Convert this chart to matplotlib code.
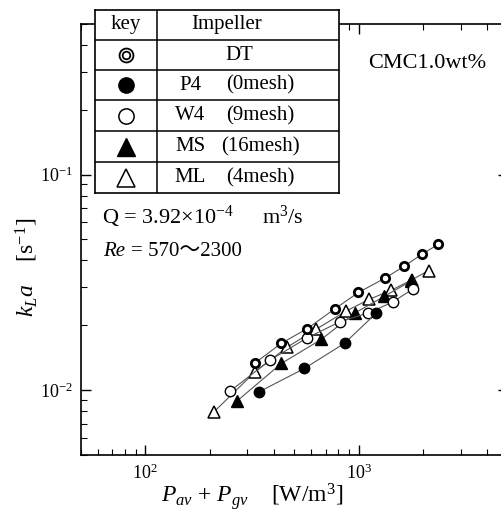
import matplotlib
matplotlib.use('Agg')
import matplotlib.pyplot as plt
from matplotlib.ticker import LogLocator, LogFormatterMathtext, NullFormatter

plt.rcParams['font.family'] = ['Liberation Serif', 'DejaVu Serif']
plt.rcParams['mathtext.fontset'] = 'custom'
plt.rcParams['mathtext.rm'] = 'Liberation Serif'
plt.rcParams['mathtext.it'] = 'Liberation Serif:italic'
plt.rcParams['mathtext.bf'] = 'Liberation Serif:bold'

# data: P_av + P_gv [W/m3] vs kLa [1/s]
dt_x = [328, 434, 574, 771, 997, 1329, 1626, 1983, 2349]
dt_y = [0.0134, 0.0165, 0.0193, 0.0238, 0.0284, 0.0331, 0.0375, 0.0428, 0.0474]

p4_x = [340, 556, 858, 1209]
p4_y = [0.0098, 0.0126, 0.0165, 0.0228]

w4_x = [250, 385, 574, 820, 1106, 1439, 1787]
w4_y = [0.0099, 0.0138, 0.0175, 0.0208, 0.0228, 0.0256, 0.0294]

ms_x = [269, 434, 668, 958, 1315, 1748]
ms_y = [0.0089, 0.0133, 0.0172, 0.0228, 0.0272, 0.0320]

ml_x = [209, 328, 461, 633, 868, 1120, 1413, 1773, 2124]
ml_y = [0.0079, 0.0122, 0.0158, 0.0192, 0.0232, 0.0264, 0.0290, 0.0325, 0.0359]

W, H = 501, 514
fig = plt.figure(figsize=(W / 100, H / 100), dpi=100)
ax = fig.add_axes([81 / W, 1 - 455 / H, (508 - 81) / W, (455 - 24) / H])

line_kw = dict(color='#555555', lw=0.8)
ax.plot(ml_x, ml_y, marker='^', ms=8, mfc='white', mec='black', mew=1.1, **line_kw)
ax.plot(ms_x, ms_y, marker='^', ms=8, mfc='black', mec='black', mew=1.0, **line_kw)
ax.plot(w4_x, w4_y, marker='o', ms=7.5, mfc='white', mec='black', mew=1.0, **line_kw)
ax.plot(p4_x, p4_y, marker='o', ms=7.5, mfc='black', mec='black', mew=1.0, **line_kw)
ax.plot(dt_x, dt_y, marker='o', ms=6, mfc='white', mec='black', mew=2.0, **line_kw)

ax.set_xscale('log')
ax.set_yscale('log')
ax.set_xlim(50, 5000)
ax.set_ylim(0.005, 0.5)

for a in (ax.xaxis, ax.yaxis):
    a.set_major_locator(LogLocator(base=10))
    a.set_minor_locator(LogLocator(base=10, subs=range(2, 10)))
    a.set_major_formatter(LogFormatterMathtext())
    a.set_minor_formatter(NullFormatter())
ax.tick_params(which='both', direction='in', top=True, right=True, labelsize=13, pad=6)
ax.tick_params(which='major', length=7, width=1.0)
ax.tick_params(which='minor', length=4, width=0.8)
for s in ax.spines.values():
    s.set_linewidth(1.2)

fig.text(252 / W, 1 - 496 / H, r'$P_{av}$ + $P_{gv}$    [W/m$^3$]', ha='center', va='center', fontsize=17)
fig.text(27 / W, 1 - 267 / H, r'$k_La$    [s$^{-1}$]', ha='center', va='center', fontsize=17, rotation=90)

fig.text(368 / W, 1 - 63 / H, 'CMC1.0wt%', ha='left', va='center', fontsize=16)
fig.text(102 / W, 1 - 217 / H, r'Q = 3.92$\times$10$^{-4}$', ha='left', va='center', fontsize=16)
fig.text(262 / W, 1 - 217 / H, r'm$^3$/s', ha='left', va='center', fontsize=16)
fig.text(103 / W, 1 - 251 / H, 'Re', ha='left', va='center', fontsize=15, style='italic')
fig.text(131 / W, 1 - 251 / H, '= 570～2300', ha='left', va='center', fontsize=15,
         family=['Liberation Serif', 'Noto Sans CJK JP'])

# key table drawn in its own axes on top of the plot frame
tx0, tx1, tcol = 95, 339, 157
rows = [10, 40, 70, 100, 131, 162, 193]
tab = fig.add_axes([tx0 / W, 1 - rows[-1] / H, (tx1 - tx0) / W, (rows[-1] - rows[0]) / H])
tab.set_xlim(tx0, tx1)
tab.set_ylim(rows[-1], rows[0])
tab.set_facecolor('white')
for s in tab.spines.values():
    s.set_linewidth(1.2)
tab.set_xticks([])
tab.set_yticks([])
for r in rows[1:-1]:
    tab.plot([tx0, tx1], [r, r], color='black', lw=1.1)
tab.plot([tcol, tcol], [rows[0], rows[-1]], color='black', lw=1.1)

mid = [(rows[i] + rows[i + 1]) / 2 for i in range(len(rows) - 1)]
kx = (tx0 + tcol) / 2
tab.text(kx, mid[0], 'key', ha='center', va='center', fontsize=15)
tab.text(227, mid[0], 'Impeller', ha='center', va='center', fontsize=15)
tab.text(239, mid[1], 'DT', ha='center', va='center', fontsize=15)

names = ['P4', 'W4', 'MS', 'ML']
meshes = ['(0mesh)', '(9mesh)', '(16mesh)', '(4mesh)']
for i, (n, m) in enumerate(zip(names, meshes)):
    tab.text(190, mid[i + 2], n, ha='center', va='center', fontsize=15)
    tab.text(260, mid[i + 2], m, ha='center', va='center', fontsize=15)

tab.plot(kx, mid[1], marker='o', ms=10, mfc='white', mec='black', mew=1.3)
tab.plot(kx, mid[1], marker='o', ms=5.5, mfc='white', mec='black', mew=1.3)
tab.plot(kx, mid[2], marker='o', ms=11, mfc='black', mec='black')
tab.plot(kx, mid[3], marker='o', ms=11, mfc='white', mec='black', mew=1.1)
tab.plot(kx, mid[4], marker='^', ms=13, mfc='black', mec='black')
tab.plot(kx, mid[5], marker='^', ms=13, mfc='white', mec='black', mew=1.1)

fig.savefig('out.png', dpi=100)
